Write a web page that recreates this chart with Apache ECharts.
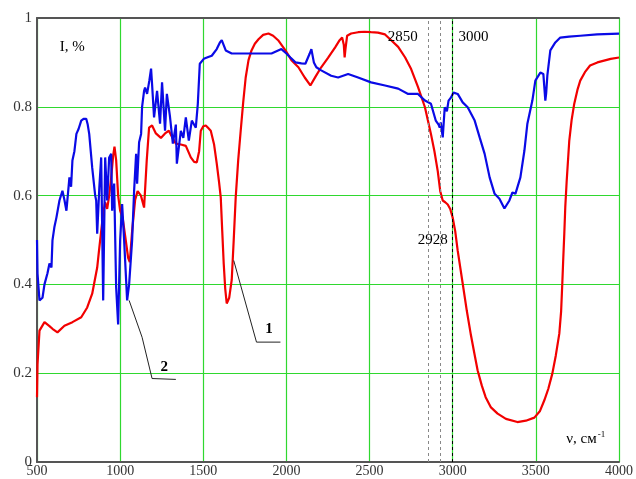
<!DOCTYPE html>
<html>
<head>
<meta charset="utf-8">
<script src="https://cdn.jsdelivr.net/npm/echarts@6/dist/echarts.min.js"></script>
<style>
  html, body { margin: 0; padding: 0; background: #fff; }
  #chart { width: 636px; height: 479px; }
</style>
</head>
<body>
<div id="chart"></div>
<script>
// IR transmission spectra: wavenumber (cm^-1) vs. relative intensity
const xTicks = [500, 1000, 1500, 2000, 2500, 3000, 3500, 4000];
const yTicks = [0, 0.2, 0.4, 0.6, 0.8, 1];

// Curve 1 (red)
const spectrum1 = [
  [500,0.146],[503,0.22],[515,0.296],[545,0.315],[575,0.306],[593,0.300],[623,0.292],[665,0.307],
  [713,0.315],[766,0.326],[802,0.348],[832,0.379],[862,0.438],[874,0.48],[886,0.52],[898,0.56],
  [910,0.585],[922,0.57],[934,0.60],[946,0.64],[958,0.69],[966,0.71],[976,0.68],[988,0.60],
  [1000,0.566],[1015,0.55],[1030,0.51],[1048,0.46],[1058,0.45],[1072,0.52],[1090,0.59],[1105,0.61],
  [1125,0.60],[1144,0.573],[1160,0.68],[1174,0.753],[1192,0.758],[1215,0.74],[1245,0.73],[1270,0.74],
  [1293,0.746],[1315,0.73],[1335,0.717],[1365,0.715],[1395,0.712],[1425,0.686],[1445,0.676],[1461,0.675],
  [1475,0.70],[1485,0.746],[1500,0.756],[1515,0.758],[1530,0.752],[1545,0.746],[1565,0.715],[1581,0.672],
  [1595,0.63],[1605,0.596],[1614,0.52],[1623,0.446],[1632,0.39],[1641,0.357],[1656,0.37],[1671,0.41],
  [1683,0.50],[1695,0.596],[1710,0.68],[1725,0.746],[1740,0.81],[1755,0.866],[1772,0.905],[1790,0.927],
  [1810,0.942],[1832,0.952],[1860,0.962],[1892,0.965],[1920,0.96],[1950,0.95],[1994,0.927],[2030,0.905],
  [2072,0.889],[2110,0.866],[2144,0.848],[2175,0.868],[2209,0.889],[2250,0.91],[2293,0.934],[2320,0.95],
  [2335,0.956],[2345,0.94],[2350,0.911],[2355,0.93],[2365,0.96],[2389,0.965],[2431,0.968],[2470,0.969],
  [2509,0.968],[2550,0.967],[2593,0.963],[2630,0.95],[2672,0.935],[2714,0.911],[2750,0.885],[2791,0.845],
  [2833,0.799],[2869,0.739],[2890,0.70],[2910,0.655],[2925,0.61],[2940,0.589],[2955,0.585],[2970,0.580],
  [2985,0.57],[3000,0.55],[3015,0.52],[3030,0.476],[3060,0.402],[3085,0.34],[3108,0.289],[3130,0.245],
  [3150,0.206],[3175,0.172],[3198,0.146],[3230,0.123],[3270,0.109],[3320,0.097],[3389,0.09],[3440,0.093],
  [3491,0.10],[3525,0.115],[3551,0.139],[3575,0.165],[3599,0.199],[3620,0.24],[3641,0.289],[3652,0.34],
  [3659,0.402],[3665,0.46],[3671,0.514],[3677,0.575],[3685,0.63],[3701,0.724],[3715,0.77],[3731,0.807],
  [3750,0.838],[3767,0.859],[3795,0.878],[3826,0.893],[3870,0.900],[3910,0.904],[3950,0.908],[4000,0.911]
];

// Curve 2 (blue)
const spectrum2 = [
  [500,0.50],[503,0.425],[515,0.364],[527,0.364],[533,0.37],[545,0.40],[563,0.425],[575,0.447],
  [587,0.438],[593,0.499],[605,0.53],[617,0.551],[635,0.589],[653,0.611],[665,0.59],[677,0.566],
  [695,0.641],[705,0.62],[713,0.679],[725,0.70],[737,0.739],[750,0.75],[766,0.769],[780,0.773],
  [796,0.773],[805,0.76],[814,0.739],[832,0.663],[850,0.60],[856,0.589],[862,0.514],[875,0.62],
  [886,0.686],[898,0.364],[910,0.686],[922,0.589],[934,0.686],[946,0.694],[952,0.566],[964,0.627],
  [976,0.393],[988,0.31],[1000,0.499],[1012,0.581],[1024,0.499],[1042,0.364],[1054,0.40],[1072,0.499],
  [1084,0.611],[1096,0.694],[1102,0.627],[1114,0.72],[1126,0.739],[1132,0.80],[1144,0.836],[1150,0.843],
  [1162,0.829],[1176,0.86],[1186,0.886],[1192,0.851],[1204,0.776],[1222,0.836],[1240,0.762],[1252,0.855],
  [1270,0.746],[1281,0.829],[1299,0.78],[1311,0.784],[1317,0.717],[1335,0.76],[1341,0.672],[1365,0.746],
  [1380,0.73],[1395,0.776],[1413,0.724],[1431,0.769],[1455,0.753],[1467,0.806],[1479,0.897],[1503,0.908],
  [1530,0.912],[1551,0.915],[1581,0.93],[1600,0.945],[1611,0.95],[1635,0.927],[1671,0.92],[1720,0.92],
  [1772,0.92],[1850,0.92],[1910,0.92],[1970,0.93],[2000,0.92],[2024,0.911],[2054,0.90],[2090,0.898],
  [2114,0.897],[2140,0.92],[2150,0.93],[2165,0.90],[2180,0.889],[2209,0.882],[2269,0.87],[2311,0.866],
  [2371,0.874],[2431,0.866],[2509,0.855],[2593,0.848],[2672,0.841],[2732,0.829],[2791,0.829],[2833,0.814],
  [2869,0.807],[2898,0.769],[2915,0.76],[2922,0.753],[2928,0.765],[2940,0.731],[2952,0.799],[2965,0.79],
  [2975,0.814],[2988,0.82],[3005,0.832],[3030,0.829],[3060,0.81],[3090,0.799],[3132,0.769],[3162,0.731],
  [3192,0.694],[3222,0.641],[3252,0.604],[3281,0.593],[3311,0.571],[3341,0.589],[3359,0.607],[3377,0.604],
  [3407,0.641],[3431,0.701],[3449,0.762],[3479,0.814],[3497,0.859],[3527,0.877],[3545,0.874],[3557,0.814],
  [3562,0.83],[3569,0.87],[3587,0.927],[3617,0.945],[3647,0.956],[3700,0.958],[3767,0.96],[3868,0.963],
  [4000,0.965]
];

// Marked band positions (cm^-1)
const bandLines = [2850, 2928, 3000];

// Leader lines from curve labels to curves
const leader1 = [[1683,0.454],[1820,0.27],[1964,0.27]];
const leader2 = [[1054,0.364],[1132,0.281],[1192,0.188],[1335,0.186]];

// Text annotations placed in data coordinates
const notes = [
  { at: [2700, 0.958], text: '2850' },
  { at: [3125, 0.958], text: '3000' },
  { at: [2880, 0.499], text: '2928' },
  { at: [712, 0.935], text: 'I, %' },
  { at: [1895, 0.30], text: '1', bold: true },
  { at: [1265, 0.213], text: '2', bold: true },
  { at: [3800, 0.052], text: 'ν, см{sup|-1}' }
];

const serif = '"Liberation Serif", "DejaVu Serif", serif';
const gridGreen = '#2fd82f';
const frame = '#555';

const chart = echarts.init(document.getElementById('chart'), null, { renderer: 'canvas' });

const fmtY = v => String(+(+v).toFixed(1));
const fmtX = v => String(Math.round(v));

chart.setOption({
  animation: false,
  backgroundColor: '#fff',
  grid: { left: 37, right: 14, top: 18, bottom: 17, containLabel: false },
  xAxis: [
    {
      type: 'value', min: xTicks[0], max: xTicks[xTicks.length - 1], interval: 500,
      position: 'bottom',
      axisLine: { show: true, onZero: false, lineStyle: { color: frame, width: 2 } },
      axisTick: { show: false },
      axisLabel: { color: '#333', fontFamily: serif, fontSize: 14, margin: 2,
                   showMinLabel: true, showMaxLabel: true, formatter: fmtX },
      splitLine: { show: true, lineStyle: { color: gridGreen, width: 1.2 } }
    },
    {
      type: 'value', min: xTicks[0], max: xTicks[xTicks.length - 1], interval: 500,
      position: 'top',
      axisLine: { show: true, onZero: false, lineStyle: { color: frame, width: 2 } },
      axisTick: { show: false }, axisLabel: { show: false }, splitLine: { show: false }
    }
  ],
  yAxis: {
    type: 'value', min: yTicks[0], max: yTicks[yTicks.length - 1], interval: 0.2,
    axisLine: { show: true, onZero: false, lineStyle: { color: frame, width: 2 } },
    axisTick: { show: false },
    axisLabel: { color: '#333', fontFamily: serif, fontSize: 15, margin: 5, formatter: fmtY },
    splitLine: { show: true, lineStyle: { color: gridGreen, width: 1.2 } }
  },
  series: [
    {
      name: 'bands', type: 'line', data: [], silent: true,
      markLine: {
        silent: true, symbol: 'none', label: { show: false },
        data: bandLines.map(v => ({
          xAxis: v,
          lineStyle: { color: v === 3000 ? '#000' : '#888', width: 1, type: [3, 3] }
        }))
      }
    },
    {
      name: '1', type: 'line', data: spectrum1, showSymbol: false, symbol: 'none',
      lineStyle: { color: '#f20000', width: 2.2 }, z: 3
    },
    {
      name: '2', type: 'line', data: spectrum2, showSymbol: false, symbol: 'none',
      lineStyle: { color: '#0a0ae6', width: 2.2 }, z: 4
    },
    {
      name: 'leader1', type: 'line', data: leader1, symbol: 'none',
      lineStyle: { color: '#222', width: 1 }, z: 5
    },
    {
      name: 'leader2', type: 'line', data: leader2, symbol: 'none',
      lineStyle: { color: '#222', width: 1 }, z: 5
    },
    {
      name: 'notes', type: 'scatter', symbolSize: 0, z: 6, silent: true,
      itemStyle: { opacity: 1 },
      data: notes.map(n => ({
        value: n.at,
        label: {
          show: true, position: 'inside', formatter: n.text, opacity: 1,
          fontFamily: serif, fontSize: 15, color: '#000',
          fontWeight: n.bold ? 'bold' : 'normal',
          rich: {
            sup: { fontFamily: serif, fontSize: 9, color: '#000', verticalAlign: 'top', padding: [0, 0, 9, 1] }
          }
        }
      }))
    }
  ]
});
</script>
</body>
</html>
